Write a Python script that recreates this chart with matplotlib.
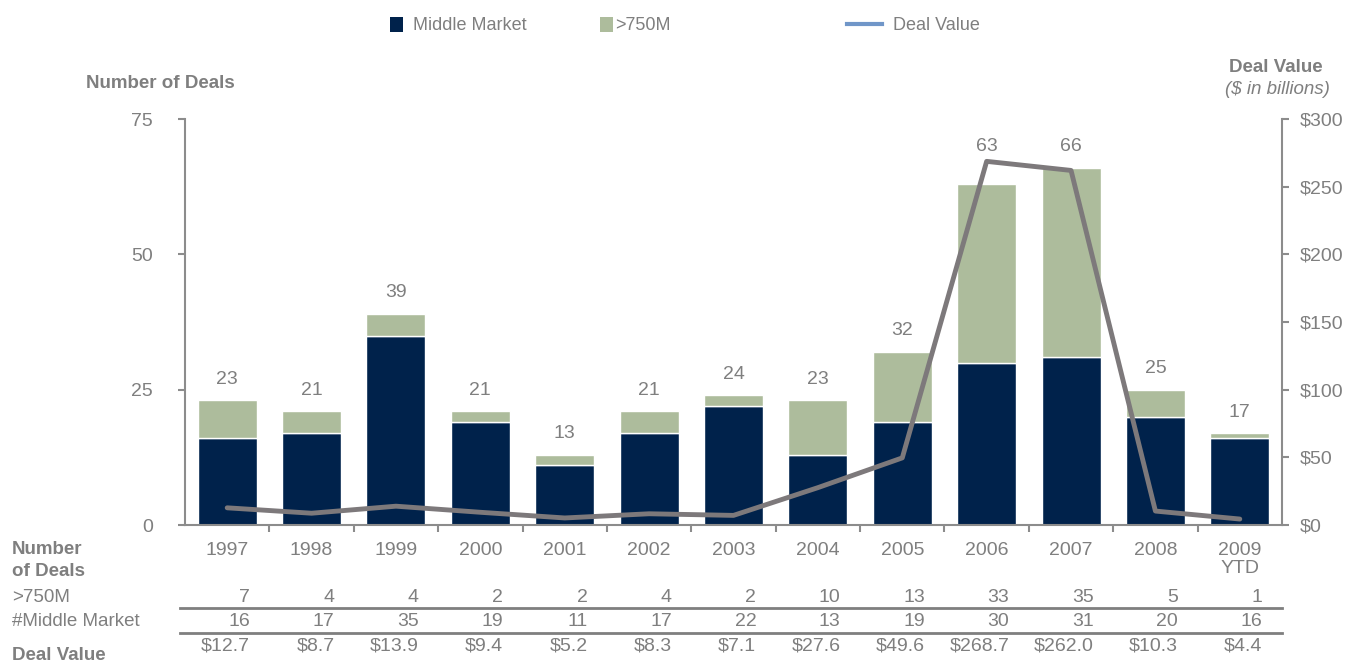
import matplotlib.pyplot as plt
import numpy as np
from matplotlib.lines import Line2D
from matplotlib.patches import Rectangle
import matplotlib.transforms as mtransforms

plt.rcParams['font.family'] = ['Liberation Sans', 'DejaVu Sans']

# Data
years = ['1997', '1998', '1999', '2000', '2001', '2002', '2003', '2004',
         '2005', '2006', '2007', '2008', '2009\nYTD']
middle_market = [16, 17, 35, 19, 11, 17, 22, 13, 19, 30, 31, 20, 16]
over_750m = [7, 4, 4, 2, 2, 4, 2, 10, 13, 33, 35, 5, 1]
deal_value = [12.7, 8.7, 13.9, 9.4, 5.2, 8.3, 7.1, 27.6, 49.6, 268.7, 262.0, 10.3, 4.4]

navy = '#00224B'
green = '#ADBC9C'
grey = '#7F7F7F'
line_grey = '#7D797B'
NUM = 14

fig = plt.figure(figsize=(13.48, 6.62), dpi=100)
ax = fig.add_axes([185 / 1348, 1 - 525 / 662, 1097 / 1348, 406 / 662])
ax2 = ax.twinx()

x = np.arange(len(years))
totals = [m + o for m, o in zip(middle_market, over_750m)]

ax.bar(x, middle_market, width=0.7, color=navy, edgecolor='white', linewidth=1)
ax.bar(x, over_750m, width=0.7, bottom=middle_market, color=green, edgecolor='white', linewidth=1)
for xi, t in zip(x, totals):
    y = t + 2.3
    if t == 63:  # lifted clear of the deal value line
        y = 68.3
    ax.text(xi, y, str(t), ha='center', va='bottom', fontsize=NUM, color=grey)

ax2.plot(x, deal_value, color=line_grey, linewidth=3.5, solid_capstyle='round', zorder=5)
ax2.set_zorder(ax.get_zorder() + 1)
ax2.patch.set_visible(False)

ax.set_xlim(-0.5, 12.5)
ax.set_ylim(0, 75)
ax2.set_ylim(0, 300)
ax.set_yticks([0, 25, 50, 75])
ax2.set_yticks([0, 50, 100, 150, 200, 250, 300])
ax2.set_yticklabels(['$' + str(v) for v in [0, 50, 100, 150, 200, 250, 300]])

for a in (ax, ax2):
    a.spines['top'].set_visible(False)
    for s in a.spines.values():
        s.set_color('#8C8C8C')
        s.set_linewidth(1.5)
    a.tick_params(axis='y', colors='#8C8C8C', labelcolor=grey, labelsize=NUM, length=5, width=1.5)
ax.spines['right'].set_visible(False)
ax2.spines['left'].set_visible(False)
ax2.spines['bottom'].set_visible(False)
ax.tick_params(axis='y', pad=18)
ax2.tick_params(axis='y', pad=8)

ax.set_xticks(x)
ax.set_xticklabels([])
ax.tick_params(axis='x', which='major', length=0)
ax.set_xticks(np.arange(0.5, 12.5, 1), minor=True)
ax.tick_params(axis='x', which='minor', length=5, width=1.5, colors='#8C8C8C')

# Axis titles
fig.text(160 / 1348, 1 - 84 / 662, 'Number of Deals', ha='center', va='center',
         fontsize=13.5, fontweight='bold', color=grey)
fig.text(1276 / 1348, 1 - 68 / 662, 'Deal Value', ha='center', va='center',
         fontsize=13.5, fontweight='bold', color=grey)
fig.text(1277 / 1348, 1 - 90 / 662, '($ in billions)', ha='center', va='center',
         fontsize=13.5, style='italic', color=grey)

# Legend (drawn by hand to match spacing)
W, H = 1348, 662
fig.add_artist(Rectangle((390 / W, 1 - 32 / H), 13 / W, 15 / H, transform=fig.transFigure,
                         facecolor=navy, edgecolor='none'))
fig.text(413 / W, 1 - 25 / H, 'Middle Market', ha='left', va='center', fontsize=13, color=grey)
fig.add_artist(Rectangle((600 / W, 1 - 32 / H), 13 / W, 15 / H, transform=fig.transFigure,
                         facecolor=green, edgecolor='none'))
fig.text(615 / W, 1 - 25 / H, '>750M', ha='left', va='center', fontsize=13, color=grey)
fig.add_artist(Line2D([847 / W, 882 / W], [1 - 24 / H, 1 - 24 / H], color='#7096C8', linewidth=3))
fig.text(893 / W, 1 - 25 / H, 'Deal Value', ha='left', va='center', fontsize=13, color=grey)

# Data table below chart
trans = mtransforms.blended_transform_factory(ax.transData, fig.transFigure)
fy = lambda py: 1 - py / 662
for xi, yr in zip(x, years):
    ax.text(xi, fy(542), yr, transform=trans, ha='center', va='top', fontsize=NUM,
            color=grey, linespacing=1.05)
for xi, o, m, d in zip(x, over_750m, middle_market, deal_value):
    ax.text(xi + 0.27, fy(597), str(o), transform=trans, ha='right', va='center', fontsize=NUM, color=grey)
    ax.text(xi + 0.27, fy(622), str(m), transform=trans, ha='right', va='center', fontsize=NUM, color=grey)
    ax.text(xi + 0.27, fy(646), '$%.1f' % d, transform=trans, ha='right', va='center', fontsize=NUM, color=grey)

for py in (608, 633):
    fig.add_artist(Line2D([180 / 1348, 1282 / 1348], [fy(py), fy(py)], color=grey, linewidth=2))

fig.text(12 / 1348, fy(549), 'Number', ha='left', va='center', fontsize=13.5, fontweight='bold', color=grey)
fig.text(12 / 1348, fy(572), 'of Deals', ha='left', va='center', fontsize=13.5, fontweight='bold', color=grey)
fig.text(12 / 1348, fy(597), '>750M', ha='left', va='center', fontsize=13.5, color=grey)
fig.text(12 / 1348, fy(622), '#Middle Market', ha='left', va='center', fontsize=13.5, color=grey)
fig.text(12 / 1348, fy(655), 'Deal Value', ha='left', va='center', fontsize=13.5, fontweight='bold', color=grey)

fig.savefig('out.png', dpi=100)
